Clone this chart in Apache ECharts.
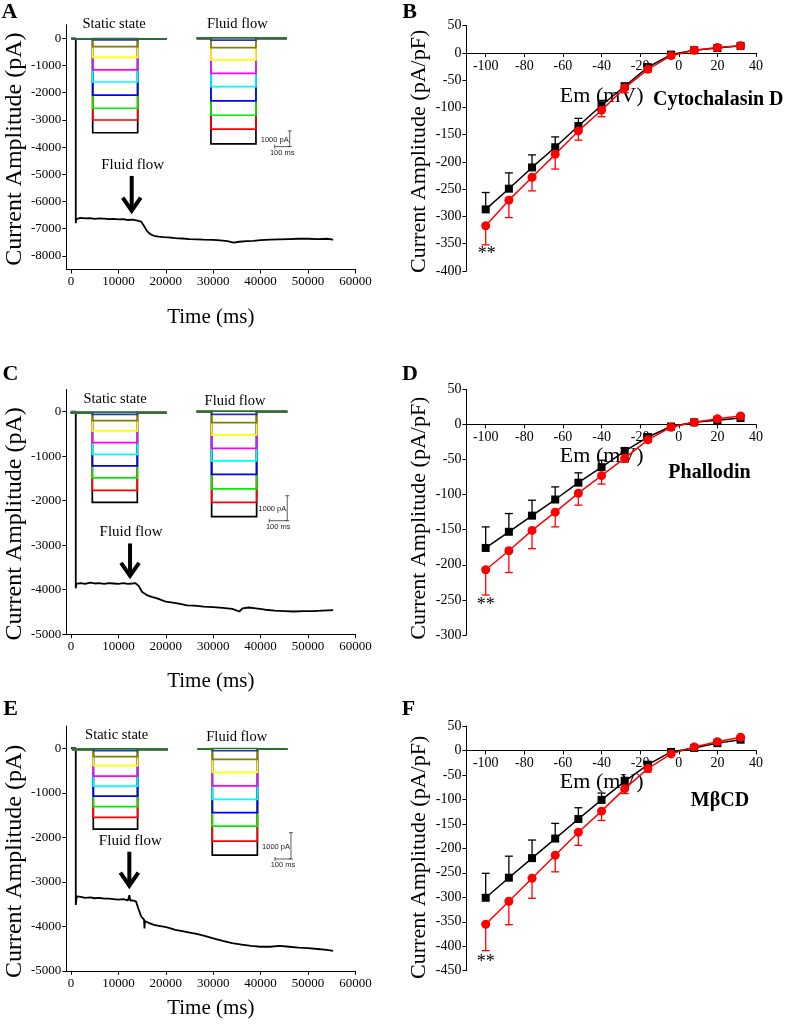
<!DOCTYPE html>
<html><head><meta charset="utf-8">
<script src="https://cdn.jsdelivr.net/npm/echarts@6/dist/echarts.min.js"></script>
<style>html,body{margin:0;padding:0;background:#fff}#c{width:787px;height:1025px}</style>
</head><body><div id="c"></div><script>
const SERIF = '"Liberation Serif","Times New Roman",serif';
const SANS = '"Liberation Sans",Arial,sans-serif';

// ---------- whole-cell current recordings: [time ms, current pA]
const traceA = [[0,0],[1000,0],[1000,-6800],[1100,-6650],[2000,-6600],[3000,-6620],[4000,-6610],[5000,-6640],[6000,-6620],[7000,-6630],[8000,-6650],[9000,-6640],[10000,-6660],[11000,-6650],[12000,-6680],[13000,-6670],[14000,-6700],[14800,-6740],[15400,-6900],[16000,-7080],[16700,-7200],[17500,-7260],[18500,-7290],[19500,-7310],[20500,-7320],[22000,-7350],[23500,-7360],[25000,-7380],[26500,-7390],[28000,-7400],[30000,-7410],[31500,-7430],[33000,-7460],[34300,-7510],[35500,-7480],[37000,-7460],[38500,-7450],[40000,-7420],[42000,-7400],[44000,-7390],[46000,-7380],[48000,-7370],[50000,-7370],[52000,-7380],[54000,-7370],[55300,-7400]];
const traceC = [[0,0],[1000,0],[1000,-3970],[1100,-3870],[2000,-3850],[3000,-3870],[4000,-3840],[5000,-3860],[6000,-3850],[7000,-3870],[8000,-3850],[9000,-3860],[10000,-3870],[11000,-3850],[12000,-3870],[13000,-3860],[13600,-3850],[14300,-3920],[15000,-4050],[16000,-4120],[17000,-4160],[18000,-4190],[19000,-4230],[20000,-4270],[21500,-4290],[23000,-4320],[24500,-4350],[26000,-4360],[28000,-4380],[30000,-4390],[32000,-4410],[34000,-4430],[35500,-4490],[36200,-4420],[37500,-4400],[39000,-4420],[41000,-4450],[43000,-4470],[45000,-4480],[47000,-4490],[49000,-4480],[51000,-4480],[53000,-4470],[55300,-4460]];
const traceE = [[0,0],[1000,0],[1000,-3520],[1200,-3330],[2000,-3340],[3000,-3360],[4000,-3350],[5000,-3370],[6000,-3360],[7000,-3380],[8000,-3380],[9000,-3390],[10000,-3400],[11000,-3390],[12000,-3420],[12300,-3300],[12500,-3420],[13000,-3420],[13700,-3440],[14200,-3600],[14800,-3780],[15400,-3850],[15500,-4050],[15600,-3880],[16500,-3930],[17500,-3970],[18500,-3990],[19500,-4010],[20500,-4030],[22000,-4080],[23500,-4110],[25000,-4140],[26500,-4170],[28000,-4210],[30000,-4270],[32000,-4330],[34000,-4380],[36000,-4410],[38000,-4440],[40000,-4460],[42000,-4460],[44000,-4440],[46000,-4460],[48000,-4480],[50000,-4490],[52000,-4510],[54000,-4530],[55300,-4550]];
const timeTicks = [0,10000,20000,30000,40000,50000,60000];
const ampTicksA = [0,-1000,-2000,-3000,-4000,-5000,-6000,-7000,-8000];
const ampTicksCE = [0,-1000,-2000,-3000,-4000,-5000];

// ---------- inset step-protocol traces (deepest first): levels in pA
const stepColors = ['#000000','#ff0000','#00ee00','#0000ff','#00ffff','#ff00ff','#ffff00','#808000','#3030c0','#1f7a1f'];
const staticLevelsA = [-5970,-5160,-4410,-3570,-2740,-1970,-1170,-490,-60,30];
const flowLevelsA   = [-6730,-5780,-4900,-3990,-3080,-2230,-1380,-590,-110,30];
const staticLevelsC = [-3590,-3110,-2610,-2130,-1670,-1200,-730,-320,-70,20];
const flowLevelsC   = [-4200,-3630,-3090,-2510,-1970,-1470,-930,-440,-110,20];
const staticLevelsE = [-3030,-2590,-2180,-1780,-1400,-1020,-620,-280,-50,20];
const flowLevelsE   = [-4030,-3500,-2930,-2420,-1910,-1400,-890,-390,-65,20];
// protocol timing (ms): sweep start, pulse on, pulse off, sweep end
const staticTimingA = [0,140,440,633], flowTimingA = [0,95,395,600];
const staticTimingC = [0,120,370,533], flowTimingC = [0,83,333,503];
const staticTimingE = [0,133,410,600], flowTimingE = [0,91,373,560];
// scale bars: [x start ms, x end ms, y top pA, y bottom pA]  (100 ms, 1000 pA)
const scaleBarA = [520,620,-5900,-6900];
const scaleBarC = [403,503,-3360,-4360];
const scaleBarE = [483,583,-3180,-4180];
// arrow marking onset of fluid flow: [time ms, top pA, tip pA]
const arrowA = [12800,-5060,-6375];
const arrowC = [12450,-2960,-3710];
const arrowE = [12300,-2325,-3110];

// ---------- I-V curves
const emMV = [-100,-88,-76,-64,-52,-40,-28,-16,-4,8,20,32];
const staticB = [-287,-249,-210,-173,-134,-96,-61,-26,-3,5,9,13];
const staticBErr = [31,29,23,19,14,9,5,3,2,2,2,2];
const flowB = [-317,-270,-228,-186,-143,-105,-64,-30,-5,5,10,13];
const flowBErr = [35,32,25,27,17,12,9,5,3,2,2,2];
const staticD = [-176,-153,-130,-107,-83,-61,-38,-18,-3,3,6,9];
const staticDErr = [30,26,22,18,14,10,5,3,2,2,2,2];
const flowD = [-207,-180,-151,-125,-98,-73,-48,-22,-4,3,8,12];
const flowDErr = [36,31,26,21,17,12,6,3,2,2,2,2];
const staticF = [-301,-260,-220,-180,-140,-101,-63,-29,-3,5,15,22];
const staticFErr = [50,44,37,31,23,14,8,5,3,3,3,3];
const flowF = [-355,-308,-261,-214,-167,-124,-78,-37,-7,7,18,27];
const flowFErr = [54,48,41,34,27,19,10,7,3,3,3,3];
const emTicks = [-100,-80,-60,-40,-20,0,20,40];

// ---------- build
const grids=[], xAxes=[], yAxes=[], series=[];
const axisLineStyle = {color:'#000', width:1};
function fmt(v){return String(v);}

function stepRender(timing){
  return function(params, api){
    const lv = api.value(1), j = api.value(2);
    const pts = [[timing[0],0],[timing[1],0],[timing[1],lv],[timing[2],lv],[timing[2],0],[timing[3],0]].map(p=>api.coord(p));
    return {type:'polyline', shape:{points:pts}, style:{stroke:stepColors[j], lineWidth:1.7, fill:null}};
  };
}

function addTracePanel(main, lay, trace, ampTicks, ymin, insets, bar, arrow){
  const gi = grids.length;
  grids.push(main);
  xAxes.push({gridIndex:gi, type:'value', min:-1000, max:60000,
    axisLine:{onZero:false, lineStyle:axisLineStyle},
    axisTick:{customValues:timeTicks, length:4, lineStyle:axisLineStyle},
    axisLabel:{customValues:timeTicks, formatter:fmt, fontFamily:SERIF, fontSize:13, color:'#000', margin:6},
    splitLine:{show:false},
    name:'Time (ms)', nameLocation:'middle', nameGap:lay.xGap,
    nameTextStyle:{fontFamily:SERIF, fontSize:21, color:'#000'}});
  yAxes.push({gridIndex:gi, type:'value', min:ymin, max:500,
    axisLine:{show:true, onZero:false, lineStyle:axisLineStyle},
    axisTick:{show:true, customValues:ampTicks, length:4, lineStyle:axisLineStyle},
    axisLabel:{customValues:ampTicks, formatter:fmt, fontFamily:SERIF, fontSize:13, color:'#000', margin:5},
    splitLine:{show:false},
    name:'Current Amplitude (pA)', nameLocation:'middle', nameGap:36, nameRotate:90,
    nameTextStyle:{fontFamily:SERIF, fontSize:24, color:'#000', padding:[0,lay.yShift,0,0]}});
  series.push({type:'line', xAxisIndex:gi, yAxisIndex:gi, data:trace, showSymbol:false, symbol:'none',
    lineStyle:{color:'#000', width:1.8}, animation:false, z:3});
  series.push({type:'custom', xAxisIndex:gi, yAxisIndex:gi, data:[arrow], animation:false, z:4,
    encode:{x:0, y:[1,2]},
    renderItem:function(params, api){
      const top = api.coord([api.value(0), api.value(1)]);
      const tip = api.coord([api.value(0), api.value(2)]);
      return {type:'group', children:[
        {type:'line', shape:{x1:top[0], y1:top[1], x2:tip[0], y2:tip[1]-3}, style:{stroke:'#000', lineWidth:4}},
        {type:'polyline', shape:{points:[[tip[0]-9, tip[1]-14],[tip[0], tip[1]-1],[tip[0]+9, tip[1]-14]]}, style:{stroke:'#000', lineWidth:4, fill:null, lineJoin:'miter'}},
        {type:'text', x:top[0]+1, y:top[1]-11, style:{text:'Fluid flow', font:'15px '+SERIF, fill:'#000', align:'center', verticalAlign:'middle', textAlign:'center', textVerticalAlign:'middle'}}
      ]};
    }});
  insets.forEach(function(ins, k){
    const ii = grids.length;
    grids.push({left:ins.left, top:ins.top, width:ins.width, height:ins.height});
    xAxes.push({gridIndex:ii, type:'value', min:0, max:ins.xmax, show:false});
    yAxes.push({gridIndex:ii, type:'value', min:ins.ymin, max:500, show:false});
    series.push({type:'custom', xAxisIndex:ii, yAxisIndex:ii, animation:false, z:5, clip:false,
      data:ins.levels.map((lv,j)=>[ins.timing[1], lv, j]), encode:{x:0, y:1},
      renderItem:stepRender(ins.timing)});
    if(k===1){
      series.push({type:'custom', xAxisIndex:ii, yAxisIndex:ii, data:[bar], animation:false, z:5, clip:false,
        encode:{x:[0,1], y:[2,3]},
        renderItem:function(params, api){
          const a = api.coord([api.value(0), api.value(3)]);
          const b = api.coord([api.value(1), api.value(3)]);
          const c = api.coord([api.value(1), api.value(2)]);
          const st = {stroke:'#333', lineWidth:0.8};
          const tf = '7.5px '+SANS;
          return {type:'group', children:[
            {type:'line', shape:{x1:a[0],y1:a[1],x2:b[0],y2:b[1]}, style:st},
            {type:'line', shape:{x1:a[0],y1:a[1]-2,x2:a[0],y2:a[1]+2}, style:st},
            {type:'line', shape:{x1:b[0],y1:b[1],x2:c[0],y2:c[1]}, style:st},
            {type:'line', shape:{x1:c[0]-2,y1:c[1],x2:c[0]+2,y2:c[1]}, style:st},
            {type:'line', shape:{x1:b[0]-2,y1:b[1],x2:b[0]+2,y2:b[1]}, style:st},
            {type:'text', x:b[0]-1, y:(b[1]+c[1])/2+1, style:{text:'1000 pA', font:tf, fill:'#222', align:'right', verticalAlign:'middle', textAlign:'right', textVerticalAlign:'middle'}},
            {type:'text', x:(a[0]+b[0])/2, y:a[1]+2, style:{text:'100 ms', font:tf, fill:'#222', align:'center', verticalAlign:'top', textAlign:'center', textVerticalAlign:'top'}}
          ]};
        }});
    }
  });
}

function errRender(color, dir){
  return function(params, api){
    const x = api.value(0), y = api.value(1), e = api.value(2);
    const p0 = api.coord([x, y]);
    const p1 = api.coord([x, y + dir*e]);
    const st = {stroke:color, lineWidth:1.3};
    return {type:'group', children:[
      {type:'line', shape:{x1:p0[0], y1:p0[1], x2:p1[0], y2:p1[1]}, style:st},
      {type:'line', shape:{x1:p1[0]-4, y1:p1[1], x2:p1[0]+4, y2:p1[1]}, style:st}
    ]};
  };
}

function addIVPanel(g, ymin, yShift, emGap, ctrl, ctrlErr, flow, flowErr){
  const gi = grids.length;
  grids.push(g);
  const zeroOffset = -g.height * (0 - ymin) / (50 - ymin);   // move the Em axis up onto 0 pA/pF
  xAxes.push({gridIndex:gi, type:'value', min:-110, max:40, position:'bottom', offset:zeroOffset,
    axisLine:{onZero:false, lineStyle:axisLineStyle},
    axisTick:{customValues:emTicks, length:4, lineStyle:axisLineStyle},
    axisLabel:{customValues:emTicks, formatter:fmt, fontFamily:SERIF, fontSize:14, color:'#000', margin:6},
    splitLine:{show:false},
    name:'Em (mV)', nameLocation:'middle', nameGap:emGap,
    nameTextStyle:{fontFamily:SERIF, fontSize:22, color:'#000', padding:[0,19,0,0]}});
  yAxes.push({gridIndex:gi, type:'value', min:ymin, max:50, interval:50,
    axisLine:{show:true, onZero:false, lineStyle:axisLineStyle},
    axisTick:{show:true, length:4, lineStyle:axisLineStyle},
    axisLabel:{formatter:fmt, fontFamily:SERIF, fontSize:14, color:'#000', margin:5},
    splitLine:{show:false},
    name:'Current Amplitude (pA/pF)', nameLocation:'middle', nameGap:36, nameRotate:90,
    nameTextStyle:{fontFamily:SERIF, fontSize:22, color:'#000', padding:[0,yShift,0,0]}});
  const cd = emMV.map((v,i)=>[v, ctrl[i]]);
  const fd = emMV.map((v,i)=>[v, flow[i]]);
  series.push({type:'line', xAxisIndex:gi, yAxisIndex:gi, data:cd, symbol:'rect', symbolSize:8,
    itemStyle:{color:'#000'}, lineStyle:{color:'#000', width:1.5}, animation:false, z:3});
  series.push({type:'custom', xAxisIndex:gi, yAxisIndex:gi, animation:false, z:3,
    data:emMV.map((v,i)=>[v, ctrl[i], ctrlErr[i]]), encode:{x:0, y:1}, renderItem:errRender('#000', 1)});
  series.push({type:'line', xAxisIndex:gi, yAxisIndex:gi, data:fd, symbol:'circle', symbolSize:9,
    itemStyle:{color:'#ff0000'}, lineStyle:{color:'#ff0000', width:1.5}, animation:false, z:4});
  series.push({type:'custom', xAxisIndex:gi, yAxisIndex:gi, animation:false, z:4,
    data:emMV.map((v,i)=>[v, flow[i], flowErr[i]]), encode:{x:0, y:1}, renderItem:errRender('#ff0000', -1)});
}

addTracePanel({left:66.3, top:24.7, width:289.1, height:244.8}, {xGap:37, yShift:4}, traceA, ampTicksA, -8500,
  [{left:71.7, top:31.15, width:96, height:125.6, xmax:640, ymin:-7500, levels:staticLevelsA, timing:staticTimingA},
   {left:196.7, top:30.45, width:96, height:125.6, xmax:640, ymin:-7500, levels:flowLevelsA, timing:flowTimingA}],
  scaleBarA, arrowA);
addTracePanel({left:66.3, top:389.5, width:289.1, height:244.7}, {xGap:37, yShift:24}, traceC, ampTicksCE, -5000,
  [{left:70.7, top:400.2, width:97.2, height:125, xmax:540, ymin:-4500, levels:staticLevelsC, timing:staticTimingC},
   {left:196.7, top:399.2, width:93.6, height:125, xmax:520, ymin:-4500, levels:flowLevelsC, timing:flowTimingC}],
  scaleBarC, arrowC);
addTracePanel({left:66.3, top:726, width:289.1, height:244.8}, {xGap:27, yShift:26}, traceE, ampTicksCE, -5000,
  [{left:72, top:736.2, width:99.2, height:131.5, xmax:620, ymin:-4500, levels:staticLevelsE, timing:staticTimingE},
   {left:197.7, top:735.9, width:96, height:131.5, xmax:600, ymin:-4500, levels:flowLevelsE, timing:flowTimingE}],
  scaleBarE, arrowE);
addIVPanel({left:466.4, top:25.7, width:289.6, height:245.3}, -400, 6, 32, staticB, staticBErr, flowB, flowBErr);
addIVPanel({left:466.4, top:389.3, width:289.6, height:245.7}, -300, 12, 17, staticD, staticDErr, flowD, flowDErr);
addIVPanel({left:466.4, top:726, width:289.6, height:244.7}, -450, 18, 20, staticF, staticFErr, flowF, flowFErr);

function txt(x, y, text, font, align){
  return {type:'text', x:x, y:y, silent:true, z:10,
    style:{text:text, font:font, fill:'#000', align:align||'center', verticalAlign:'middle', textAlign:align||'center', textVerticalAlign:'middle'}};
}
const bold22 = 'bold 22px '+SERIF, t145 = '14.5px '+SERIF, bold20 = 'bold 20px '+SERIF, ast = '18px '+SERIF;
const graphic = [
  txt(9.5,12.5,'A',bold22), txt(409.5,12.5,'B',bold22), txt(10.5,374,'C',bold22),
  txt(410,374,'D',bold22), txt(10.5,709,'E',bold22), txt(408.5,709,'F',bold22),
  txt(114,24,'Static state',t145), txt(237.3,24,'Fluid flow',t145),
  txt(115,399.3,'Static state',t145), txt(235,400.7,'Fluid flow',t145),
  txt(116.7,735,'Static state',t145), txt(236.7,736.7,'Fluid flow',t145),
  txt(653,100,'Cytochalasin D',bold20,'left'), txt(668.3,472.7,'Phallodin',bold20,'left'), txt(720,801,'MβCD',bold20),
  txt(486.7,254,'**',ast), txt(485.7,605.7,'**',ast), txt(485.7,962.7,'**',ast)
];

const chart = echarts.init(document.getElementById('c'), null, {renderer:'canvas'});
chart.setOption({animation:false, backgroundColor:'#fff', grid:grids, xAxis:xAxes, yAxis:yAxes, series:series, graphic:graphic});
</script></body></html>
